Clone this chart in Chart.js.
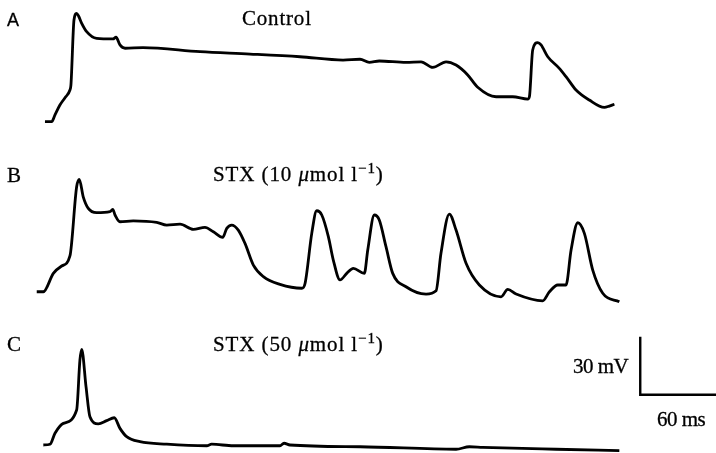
<!DOCTYPE html>
<html>
<head>
<meta charset="utf-8">
<script src="https://cdn.jsdelivr.net/npm/chart.js@4"></script>
<style>
  body { margin: 0; background: #fff; }
  #wrap { position: relative; width: 716px; height: 453px; }
  .lbl { position: absolute; font-family: "Liberation Serif", "DejaVu Serif", serif; font-size: 21px; line-height: 21px; color: #000; white-space: nowrap; -webkit-text-stroke: 0.3px #000; }
  .lbl sup { font-size: 15px; vertical-align: 8px; line-height: 0; }
  .lbl i { font-style: italic; }
  .panel { font-family: "Liberation Sans", Arial, sans-serif; font-size: 18px; }
</style>
</head>
<body>
<div id="wrap">
  <canvas id="traces"></canvas>
  <div class="lbl panel" style="left:7px; top:10px;">A</div>
  <div class="lbl" style="left:242px; top:8px; letter-spacing:0.8px;">Control</div>
  <div class="lbl" style="left:7px; top:165px;">B</div>
  <div class="lbl" style="left:213px; top:164px; letter-spacing:0.9px;">STX (10 <i>μ</i>mol l<sup>−1</sup>)</div>
  <div class="lbl" style="left:7px; top:334px;">C</div>
  <div class="lbl" style="left:213px; top:334px; letter-spacing:0.9px;">STX (50 <i>μ</i>mol l<sup>−1</sup>)</div>
  <div class="lbl" style="left:573px; top:356px; letter-spacing:-0.5px;">30 mV</div>
  <div class="lbl" style="left:657px; top:409px; letter-spacing:-0.5px;">60 ms</div>
</div>
<script>
// time in ms, membrane potential in mV relative to the resting level of each trace

// A: control
var timeA = [7.1, 12.4, 15.0, 18.9, 22.9, 26.8, 27.6, 30.0, 32.0, 33.6, 36.1, 40.0, 47.9, 60.8, 63.2, 66.3, 70.3, 84.5,
  129.5, 169.0, 208.4, 242.4, 255.8, 263.1, 271.0, 292.1, 304.0, 313.2, 323.7, 331.6, 340.8, 348.7, 363.2, 376.3,
  388.2, 389.5, 392.1, 396.1, 398.7, 404.0, 413.1, 418.4, 426.3, 436.8, 448.7, 452.6, 456.6];
var voltA = [0, 0, 3.5, 8.6, 12.4, 16.4, 19.0, 52.6, 56.0, 54.7, 50.9, 46.6, 43.1, 42.8, 43.7, 39.7, 38.0, 38.3,
  36.2, 35.0, 33.6, 31.9, 32.3, 30.7, 31.4, 30.7, 31.0, 28.1, 31.0, 29.3, 24.2, 17.8, 12.9, 12.9,
  11.7, 12.9, 37.1, 40.9, 39.7, 33.6, 27.6, 23.3, 16.4, 11.2, 7.4, 8.1, 9.0];

// B: STX 10 umol/l
var timeB = [0.6, 5.8, 13.7, 20.3, 26.8, 32.1, 34.2, 37.3, 41.3, 47.9, 58.4, 60.6, 62.4, 66.3, 76.8, 95.3, 103.2,
  113.7, 124.2, 133.4, 140.0, 147.4, 150.6, 154.5, 159.7, 165.0, 171.6, 179.5, 192.6, 209.8, 212.4, 217.7,
  221.6, 225.6, 230.8, 234.7, 240.0, 245.3, 250.5, 259.2, 261.9, 267.1, 271.0, 276.3, 281.6, 292.1, 307.9,
  315.8, 319.7, 326.3, 331.6, 339.5, 350.0, 367.1, 372.4, 379.0, 400.0, 405.3, 411.9, 418.4, 422.4, 427.7,
  432.9, 439.5, 447.4, 460.5];
var voltB = [0, 0, 9.5, 13.3, 18.5, 54.3, 58.1, 49.1, 43.1, 40.9, 41.4, 42.6, 39.7, 36.2, 36.7, 35.9, 34.5,
  35.0, 32.3, 33.3, 31.0, 28.1, 32.8, 34.5, 31.9, 25.0, 13.8, 7.8, 3.8, 1.8, 4.3, 30.2,
  41.9, 39.7, 28.5, 16.4, 6.1, 9.5, 12.1, 9.5, 21.6, 39.7, 37.1, 23.3, 9.5, 2.6, -1.2,
  0.5, 19.9, 40.2, 31.9, 14.7, 3.5, -2.6, 1.2, -1.2, -4.7, 0, 3.5, 3.5, 21.6, 35.7,
  30.2, 11.2, -0.8, -5.2];

// C: STX 50 umol/l
var timeC = [5.8, 11.1, 15.0, 21.6, 32.1, 34.7, 36.1, 39.5, 42.6, 49.2, 55.8, 61.8, 66.3, 71.6, 82.1, 103.2,
  134.8, 138.7, 155.8, 192.6, 195.8, 200.5, 255.8, 331.6, 342.1, 352.7, 410.5, 460.5];
var voltC = [0, 0.4, 6.1, 11.2, 18.1, 44.0, 49.5, 30.2, 14.6, 10.9, 12.6, 14.1, 8.6, 4.3, 1.7, 0.4,
  -0.4, 0.4, -0.4, -0.4, 0.9, 0, -0.9, -2.2, -0.9, -1.2, -2.2, -2.9];

// calibration bar: 30 mV, 60 ms (drawn on panel C's scale)
var barTime = [477, 477, 537];
var barVolt = [56, 26, 26];

function pts(t, v) {
  return t.map(function (x, i) { return { x: x, y: v[i] }; });
}

function trace(t, v, axis) {
  return {
    data: pts(t, v),
    yAxisID: axis,
    borderColor: "#000",
    borderWidth: 2.8,
    pointRadius: 0,
    fill: false,
    clip: false,
    cubicInterpolationMode: "monotone"
  };
}

var bar = trace(barTime, barVolt, "yC");
bar.cubicInterpolationMode = "default";
bar.tension = 0;
bar.borderWidth = 2.4;

var ctx = document.getElementById("traces").getContext("2d");
var chart = new Chart(ctx, {
  type: "line",
  data: {
    datasets: [trace(timeA, voltA, "yA"), trace(timeB, voltB, "yB"), trace(timeC, voltC, "yC"), bar]
  },
  options: {
    responsive: true,
    maintainAspectRatio: false,
    animation: false,
    layout: { padding: 0 },
    plugins: { legend: { display: false }, tooltip: { enabled: false } },
    scales: {
      x: { type: "linear", min: -28.4, max: 536.8, display: false },
      yA: { type: "linear", min: -171.4, max: 62.96, display: false },
      yB: { type: "linear", min: -83.4, max: 150.9, display: false },
      yC: { type: "linear", min: -4.14, max: 230.2, display: false }
    }
  }
});
</script>
</body>
</html>
